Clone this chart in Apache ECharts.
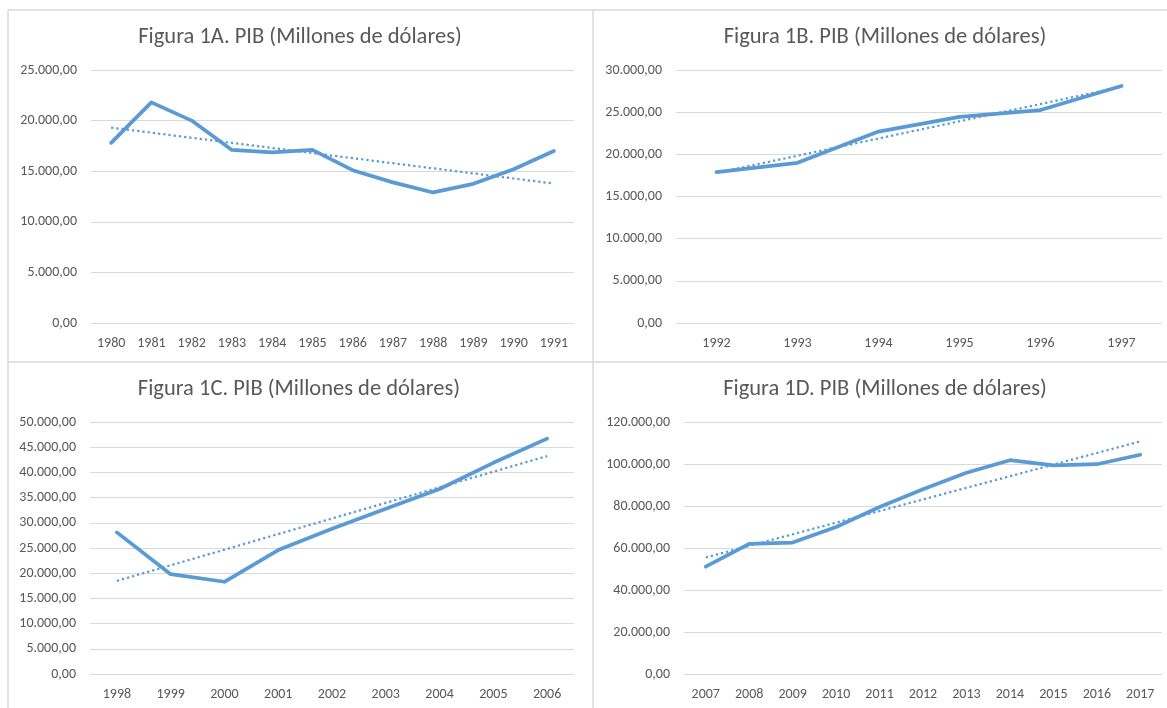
<!DOCTYPE html>
<html>
<head>
<meta charset="utf-8">
<style>
  html, body { margin: 0; padding: 0; background: #fff; }
  #main { width: 1167px; height: 708px; }
</style>
<script src="https://cdn.jsdelivr.net/npm/echarts@6/dist/echarts.min.js"></script>
</head>
<body>
<div id="main"></div>
<script>
// datos (millones de dolares)
var yearsA = ['1980', '1981', '1982', '1983', '1984', '1985', '1986', '1987', '1988', '1989', '1990', '1991'];
var pibA = [17800, 21800, 20000, 17100, 16850, 17100, 15100, 13900, 12900, 13750, 15200, 17000];

var yearsB = ['1992', '1993', '1994', '1995', '1996', '1997'];
var pibB = [17900, 19000, 22700, 24450, 25250, 28100];

var yearsC = ['1998', '1999', '2000', '2001', '2002', '2003', '2004', '2005', '2006'];
var pibC = [28100, 19800, 18300, 24600, 28800, 32800, 36700, 41900, 46700];

var yearsD = ['2007', '2008', '2009', '2010', '2011', '2012', '2013', '2014', '2015', '2016', '2017'];
var pibD = [51100, 62000, 62600, 70000, 79500, 88000, 95800, 101800, 99300, 99900, 104400];

var titles = [
    'Figura 1A. PIB (Millones de dólares)',
    'Figura 1B. PIB (Millones de dólares)',
    'Figura 1C. PIB (Millones de dólares)',
    'Figura 1D. PIB (Millones de dólares)'
];
var yMax = [25000, 30000, 50000, 120000];
var yStep = [5000, 5000, 5000, 20000];

var AZUL = '#5B9BD5';
var GRIS = '#595959';
var FUENTE = 'Carlito, "Open Sans", sans-serif';

// linea de tendencia lineal (minimos cuadrados), como la de Excel
function tendencia(vals) {
    var n = vals.length, sx = 0, sy = 0, sxy = 0, sxx = 0;
    for (var i = 0; i < n; i++) {
        sx += i; sy += vals[i]; sxy += i * vals[i]; sxx += i * i;
    }
    var m = (n * sxy - sx * sy) / (n * sxx - sx * sx);
    var b = (sy - m * sx) / n;
    return vals.map(function (v, i) { return +(b + m * i).toFixed(1); });
}

// 25000 -> "25.000,00"
function formato(v) {
    var ent = Math.round(v).toString().replace(/\B(?=(\d{3})+(?!\d))/g, '.');
    return ent + ',00';
}

var paneles = [
    { cats: yearsA, vals: pibA, grid: { left: 91, top: 70, width: 483, height: 253 }, tx: 300, ty: 26 },
    { cats: yearsB, vals: pibB, grid: { left: 676, top: 70, width: 486, height: 253 }, tx: 885, ty: 26 },
    { cats: yearsC, vals: pibC, grid: { left: 90, top: 422, width: 484, height: 252 }, tx: 299, ty: 378 },
    { cats: yearsD, vals: pibD, grid: { left: 684, top: 422, width: 478, height: 252 }, tx: 885, ty: 378 }
];

var option = {
    backgroundColor: '#fff',
    animation: false,
    title: [],
    grid: [],
    xAxis: [],
    yAxis: [],
    series: [],
    graphic: [
        // bordes de los cuadros
        { type: 'line', shape: { x1: 8, y1: 10, x2: 1167, y2: 10 }, style: { stroke: '#d9d9d9', lineWidth: 1.5 } },
        { type: 'line', shape: { x1: 8, y1: 10, x2: 8, y2: 708 }, style: { stroke: '#d9d9d9', lineWidth: 1.5 } },
        { type: 'line', shape: { x1: 593, y1: 10, x2: 593, y2: 708 }, style: { stroke: '#d9d9d9', lineWidth: 1.5 } },
        { type: 'line', shape: { x1: 8, y1: 362, x2: 1167, y2: 362 }, style: { stroke: '#d9d9d9', lineWidth: 1.5 } }
    ]
};

paneles.forEach(function (p, i) {
    option.title.push({
        text: titles[i],
        left: p.tx,
        top: p.ty,
        textAlign: 'center',
        padding: 0,
        textStyle: { fontFamily: FUENTE, fontSize: 22.5, fontWeight: 'normal', color: GRIS }
    });
    option.grid.push(p.grid);
    option.xAxis.push({
        type: 'category',
        gridIndex: i,
        data: p.cats,
        boundaryGap: true,
        axisLine: { show: false },
        axisTick: { show: false },
        axisLabel: { color: GRIS, fontFamily: FUENTE, fontSize: 14, margin: 13 }
    });
    option.yAxis.push({
        type: 'value',
        gridIndex: i,
        min: 0,
        max: yMax[i],
        interval: yStep[i],
        axisLine: { show: false },
        axisTick: { show: false },
        splitLine: { lineStyle: { color: '#d9d9d9', width: 1 } },
        axisLabel: { color: GRIS, fontFamily: FUENTE, fontSize: 14, margin: 14, formatter: formato }
    });
    option.series.push({
        type: 'line',
        xAxisIndex: i,
        yAxisIndex: i,
        data: p.vals,
        symbol: 'none',
        lineStyle: { color: AZUL, width: 3.75, cap: 'round', join: 'round' },
        z: 2
    });
    option.series.push({
        type: 'line',
        xAxisIndex: i,
        yAxisIndex: i,
        data: tendencia(p.vals),
        symbol: 'none',
        lineStyle: { color: AZUL, width: 2.25, type: [2.25, 3] },
        z: 3
    });
});

var chart = echarts.init(document.getElementById('main'));
chart.setOption(option);
</script>
</body>
</html>
